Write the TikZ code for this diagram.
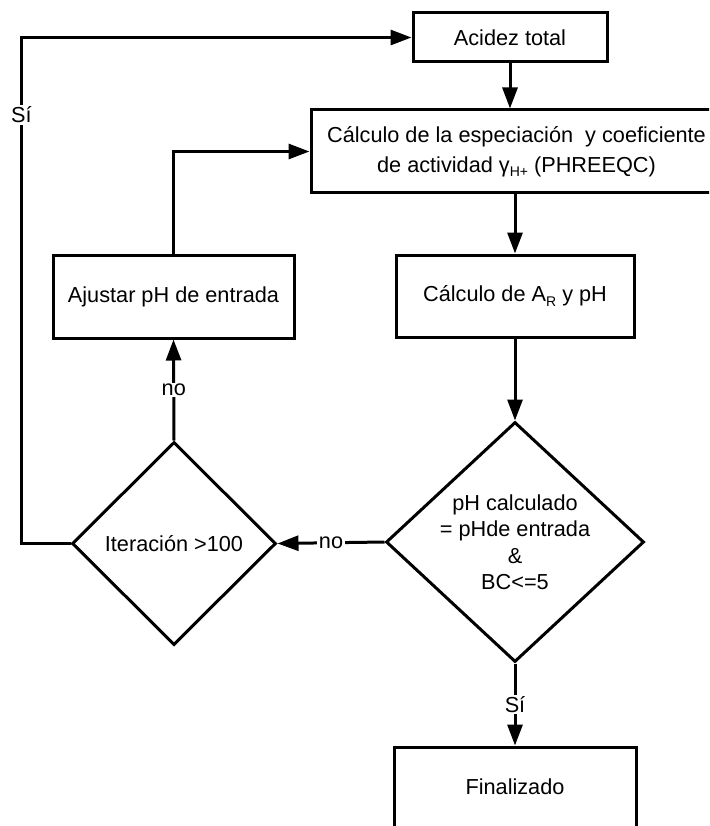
\documentclass[tikz,border=0pt]{standalone}
\usepackage{fontspec}
\setmainfont{Liberation Sans}
\usetikzlibrary{arrows.meta,shapes.geometric}
\newcommand{\mysub}[1]{\raisebox{-4.5pt}{\fontsize{14}{14}\selectfont #1}}
\begin{document}
\begin{tikzpicture}[x=1pt,y=-1pt,
  box/.style={draw, line width=3pt, rectangle, inner sep=0pt, align=center},
  dia/.style={draw, line width=3pt, diamond, inner sep=0pt},
  conn/.style={line width=3pt, -{Triangle[length=21pt,width=15pt]}},
  lbl/.style={fill=white, inner sep=1.5pt},
  font=\fontsize{21.7}{26.5}\selectfont]
\path[use as bounding box, clip] (0,0) rectangle (709,826);

\node[box, minimum width=194pt, minimum height=49pt] (acid) at (510,37.5) {Acidez total};
\node[box, minimum width=411pt, minimum height=83pt, font=\fontsize{21.7}{30}\selectfont] (calc1) at (516.5,151.5)
  {Cálculo de la especiación\ \ y coeficiente\\de actividad γ\mysub{H+} (PHREEQC)};
\node[box, minimum width=238pt, minimum height=82pt] (calc2) at (515,296) {Cálculo de A\mysub{R} y pH};
\node[box, minimum width=241pt, minimum height=83pt] (ajust) at (173.5,296.5) {Ajustar pH de entrada};
\node[dia, minimum width=258pt, minimum height=240pt] (d1) at (515,542) {};
\node[align=center] (d1t) at (d1) {pH calculado\\= pHde entrada\\\&\\BC<=5};
\node[dia, minimum width=204pt, minimum height=203pt] (d2) at (174,543.5) {};
\node (d2t) at (d2) {Iteración >100};
\node[box, minimum width=242pt, minimum height=80pt] (fin) at (515,787) {Finalizado};

\coordinate (lft) at (21.5,543.5);

\draw[conn] (acid.south) -- (acid.south |- calc1.north);
\draw[conn] (calc1.south -| calc2.north) -- (calc2.north);
\draw[conn] (calc2.south) -- (d1.north);
\draw[conn] (d1.south) -- node[lbl] {Sí} (fin.north);
\draw[conn] (d1.west) -- node[lbl] {no} (d2.east);
\draw[conn] (d2.north) -- node[lbl] {no} (ajust.south);
\draw[conn] (ajust.north) |- (calc1.west);
\draw[conn] (d2.west) -- (lft) |- (acid.west);
\node[lbl] (si2) at (21.5,115) {Sí};
\end{tikzpicture}
\end{document}
